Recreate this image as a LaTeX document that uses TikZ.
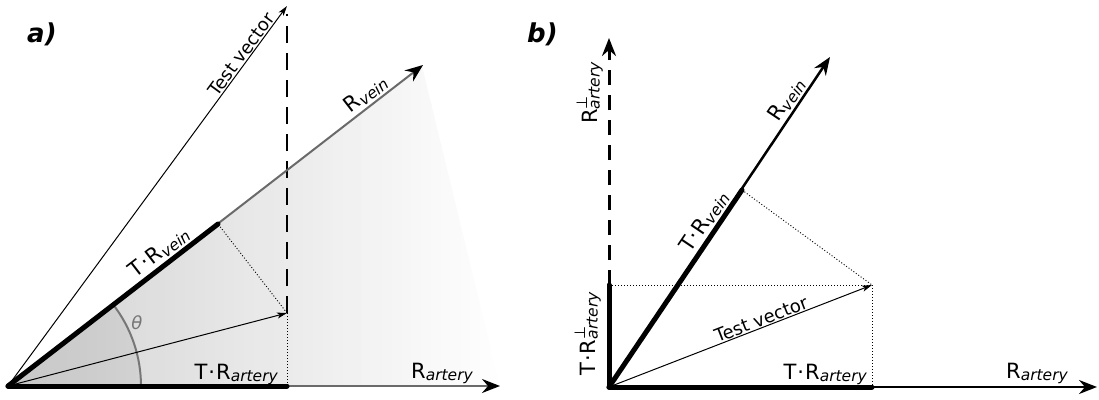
\documentclass[tikz,border=0pt]{standalone}
\usepackage{fontspec}
\setmainfont{DejaVu Sans}
\usetikzlibrary{arrows.meta}
\newcommand{\sbt}[1]{\raisebox{-2.5pt}{\fontsize{15.5}{15.5}\selectfont\itshape #1}}
\newcommand{\perpsbt}[1]{\makebox[0pt][l]{\raisebox{10pt}{\fontsize{15}{15}\selectfont ⊥}}\sbt{#1}}
\newcommand{\TR}{T\kern0.8pt·\kern1.2pt R}
\definecolor{lgray}{HTML}{6A6A6A}
\definecolor{agray}{HTML}{777777}
\definecolor{lgrad}{HTML}{D2D2D2}
\begin{document}
\begin{tikzpicture}[x=1pt,y=-1pt,
  lab/.style={font=\fontsize{21}{21}\selectfont, inner sep=2pt},
  tvlab/.style={font=\fontsize{18}{18}\selectfont, inner sep=1pt},
  panel/.style={font=\fontsize{26}{26}\selectfont\bfseries\itshape, inner sep=0pt, anchor=base west},
  bigarr/.style={-{Stealth[length=18pt,width=14pt,inset=6pt,color=black]}},
  thinarr/.style={-{Stealth[length=10pt,width=6pt,inset=2.5pt]}, line width=1pt},
  thickseg/.style={line width=5pt, line cap=round},
  dotl/.style={line width=0.9pt, dash pattern=on 1pt off 2pt}]
\useasboundingbox (0,0) rectangle (1099,399);

% ---------------- panel a ----------------
\coordinate (Oa) at (8,386);
\coordinate (TVa) at (287,6);
\coordinate (RVa) at (423,65);
\coordinate (RVe) at (422,66);
\coordinate (SHr) at (500,386);
\coordinate (Pa) at (287,313);
\coordinate (TRVa) at (218,224);
\coordinate (TRAa) at (287,386);
\coordinate (RAa) at (500,386);

\begin{scope}
  \clip (Oa) -- (RVe) -- (SHr) -- cycle;
  \foreach \i in {0,...,49} {
    \pgfmathsetmacro\xa{8+\i*9.84}
    \pgfmathsetmacro\xb{\xa+10.6}
    \pgfmathtruncatemacro\pc{100-\i*2}
    \fill[lgrad!\pc!white] (\xa,0) rectangle (\xb,399);
  }
\end{scope}
\fill[black, opacity=0.05] (Oa) -- ++(133,0) arc[start angle=0, end angle=-37.8, radius=133] -- cycle;
\draw[agray, line width=2pt] (Oa) ++(133,0) arc[start angle=0, end angle=-37.8, radius=133];
\node[text=agray, font=\fontsize{18}{18}\selectfont\itshape] (theta) at (137,323) {θ};

\draw[line width=1.2pt, dash pattern=on 17pt off 10pt] (Pa) -- (287,14);
\draw[dotl] (Pa) -- (TRAa);
\draw[dotl] (Pa) -- (TRVa);

\draw[lgray, line width=2pt, bigarr] (Oa) -- (RVa)
  node[lab, text=black, sloped, above, pos=0.88] (rva) {R\sbt{vein}};
\draw[lgray, line width=2pt, bigarr] (Oa) -- (RAa);
\draw[thinarr] (Oa) -- (TVa)
  node[tvlab, sloped, above, pos=0.86] (tva) {Test vector};
\draw[thinarr] (Oa) -- (Pa);
\draw[thickseg] (Oa) -- (TRVa)
  node[lab, sloped, above, pos=0.76, inner sep=2pt] (trva) {\TR\sbt{vein}};
\draw[thickseg] (Oa) -- (TRAa);

\node[lab, anchor=base east, inner sep=0pt] (traa) at (278,379) {\TR\sbt{artery}};
\node[lab, anchor=base east, inner sep=0pt] (raa) at (473,378) {R\sbt{artery}};
\node[panel] (pa) at (27,42) {a)};

% ---------------- panel b ----------------
\coordinate (Ob) at (609,387);
\coordinate (Pb) at (872,285);
\coordinate (TRAb) at (872,387);
\coordinate (RAb) at (1097,387);
\coordinate (TPb) at (609,285);
\coordinate (RPb) at (609,38);
\coordinate (RVb) at (830,57);
\coordinate (TRVb) at (742,190);

\draw[dotl] (TPb) -- (Pb);
\draw[dotl] (Pb) -- (TRAb);
\draw[dotl] (TRVb) -- (Pb);

\draw[line width=3pt, dash pattern=on 15pt off 10pt, bigarr] (TPb) -- (RPb);
\draw[line width=2.5pt, bigarr] (Ob) -- (RVb)
  node[lab, sloped, above, pos=0.85] (rvb) {R\sbt{vein}};
\draw[line width=2.5pt, bigarr] (Ob) -- (RAb);
\draw[thinarr] (Ob) -- (Pb)
  node[tvlab, sloped, above, pos=0.59] (tvb) {Test vector};
\draw[thickseg] (Ob) -- (TRVb)
  node[lab, sloped, above, pos=0.8, inner sep=2pt] (trvb) {\TR\sbt{vein}};
\draw[thickseg] (Ob) -- (TRAb);
\draw[thickseg] (Ob) -- (TPb);

\node[lab, rotate=90, anchor=south, inner sep=1pt] (rpb) at (604,93) {R\perpsbt{artery}};
\node[lab, rotate=90, anchor=south, inner sep=1pt] (trpb) at (602,334) {\TR\perpsbt{artery}};
\node[lab, anchor=base east, inner sep=0pt] (trab) at (867,379) {\TR\sbt{artery}};
\node[lab, anchor=base east, inner sep=0pt] (rab) at (1068,378) {R\sbt{artery}};
\node[panel] (pb) at (527,42) {b)};
\end{tikzpicture}
\end{document}
